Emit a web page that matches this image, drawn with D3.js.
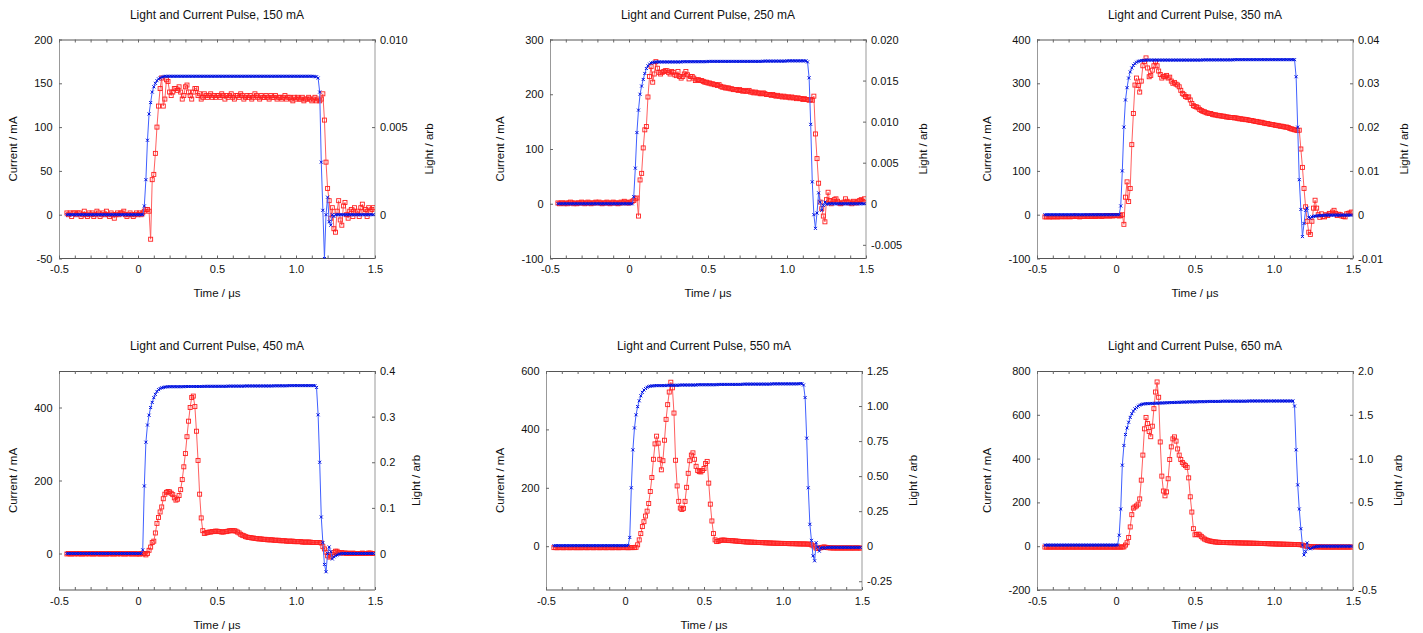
<!DOCTYPE html>
<html>
<head>
<meta charset="utf-8">
<script src="https://cdn.jsdelivr.net/npm/d3@7"></script>
<style>
  body { margin: 0; background: #fff; }
  svg { display: block; font-family: "Liberation Sans", Arial, sans-serif; }
  .tick text { font-size: 11px; fill: #111; }
  .title { font-size: 12px; fill: #111; }
  .axlabel { font-size: 11.5px; fill: #111; }
</style>
</head>
<body>
<div id="chart"></div>
<script>
// sample times, microseconds (scope record, 10 ns per sample)
const timeUs = [
  -0.45,-0.44,-0.43,-0.42,-0.41,
  -0.40,-0.39,-0.38,-0.37,-0.36,-0.35,-0.34,-0.33,-0.32,-0.31,
  -0.30,-0.29,-0.28,-0.27,-0.26,-0.25,-0.24,-0.23,-0.22,-0.21,
  -0.20,-0.19,-0.18,-0.17,-0.16,-0.15,-0.14,-0.13,-0.12,-0.11,
  -0.10,-0.09,-0.08,-0.07,-0.06,-0.05,-0.04,-0.03,-0.02,-0.01,
  0.00,0.01,0.02,0.03,0.04,0.05,0.06,0.07,0.08,0.09,
  0.10,0.11,0.12,0.13,0.14,0.15,0.16,0.17,0.18,0.19,
  0.20,0.21,0.22,0.23,0.24,0.25,0.26,0.27,0.28,0.29,
  0.30,0.31,0.32,0.33,0.34,0.35,0.36,0.37,0.38,0.39,
  0.40,0.41,0.42,0.43,0.44,0.45,0.46,0.47,0.48,0.49,
  0.50,0.51,0.52,0.53,0.54,0.55,0.56,0.57,0.58,0.59,
  0.60,0.61,0.62,0.63,0.64,0.65,0.66,0.67,0.68,0.69,
  0.70,0.71,0.72,0.73,0.74,0.75,0.76,0.77,0.78,0.79,
  0.80,0.81,0.82,0.83,0.84,0.85,0.86,0.87,0.88,0.89,
  0.90,0.91,0.92,0.93,0.94,0.95,0.96,0.97,0.98,0.99,
  1.00,1.01,1.02,1.03,1.04,1.05,1.06,1.07,1.08,1.09,
  1.10,1.11,1.12,1.13,1.14,1.15,1.16,1.17,1.18,1.19,
  1.20,1.21,1.22,1.23,1.24,1.25,1.26,1.27,1.28,1.29,
  1.30,1.31,1.32,1.33,1.34,1.35,1.36,1.37,1.38,1.39,
  1.40,1.41,1.42,1.43,1.44,1.45,1.46,1.47,1.48,1.49
];

const pulseCurrents = [150, 250, 350, 450, 550, 650];

// current in mA
const current150 = [
  0,0,0,0,0,
  0,0,0,0,0,0,0,0,0,0,
  0,0,0,0,0,0,0,0,0,0,
  0,0,0,0,0,0,0,0,0,0,
  0,0,0,0,0,0,0,0,0,0,
  0,0,0,0,10,40,85,115,128,140,
  146,150,153,155,156,157,157.5,158,158,158,
  158,158,158,158,158,158,158,158,158,158,
  158,158,158,158,158,158,158,158,158,158,
  158,158,158,158,158,158,158,158,158,158,
  158,158,158,158,158,158,158,158,158,158,
  158,158,158,158,158,158,158,158,158,158,
  158,158,158,158,158,158,158,158,158,158,
  158,158,158,158,158,158,158,158,158,158,
  158,158,158,158,158,158,158,158,158,158,
  158,158,158,158,158,158,158,158,158,158,
  158,158,157.5,157.5,156,140,60,5,-50,0,
  20,-8,-12,0,-2,0,0,0,0,0,
  0,0,0,0,0,0,0,0,0,0,
  0,0,0,0,0,0,0,0,0,0
];
const current250 = [
  0,0,0,0,0,
  0,0,0,0,0,0,0,0,0,0,
  0,0,0,0,0,0,0,0,0,0,
  0,0,0,0,0,0,0,0,0,0,
  0,0,0,0,0,0,0,0,0,0,
  0,0,0,13,65,130,171,200,215,227,
  238,247,252,255,257,258,258.5,259,259,259,
  259,259,259,259,259,259,259,259,259,259,
  259,259,259,259,259.5,259.5,259.5,259.5,259.5,259.5,
  259.5,259.5,259.5,259.5,259.5,259.5,259.5,259.5,259.5,259.5,
  260,260,260,260,260,260,260,260,260,260,
  260,260,260,260,260,260,260,260,260,260,
  260,260,260,260,260,260,260,260,260,260,
  260,260,260,260,260,260.5,260.5,260.5,260.5,260.5,
  260.5,260.5,260.5,260.5,260.5,260.5,260.5,260.5,260.5,260.5,
  261,261,261,261,261,261,261,261,261,261,
  261,261,261,259,230,145,40,-20,-45,-17,
  20,3,-12,-3,3,-1,0,0,0,0,
  0,0,0,0,0,0,0,0,0,0,
  0,0,0,0,0,0,0,0,0,0
];
const current350 = [
  0,0,0,0,0,
  0,0,0,0,0,0,0,0,0,0,
  0,0,0,0,0,0,0,0,0,0,
  0,0,0,0,0,0,0,0,0,0,
  0,0,0,0,0,0,0,0,0,0,
  0,0,0,20,100,200,262,290,312,326,
  335,341,345,348,350,351,352,352,352.5,353,
  353,353,353,353,353,353,353,353,353,353,
  353,353,353,353,353,353,353,353,353,353,
  353,353,353,353,353,353,353,353,353,353,
  353,353,353,353,353,353.5,353.5,353.5,353.5,353.5,
  353.5,353.5,353.5,353.5,353.5,353.5,353.5,353.5,353.5,353.5,
  353.5,353.5,353.5,353.5,353.5,354,354,354,354,354,
  354,354,354,354,354,354,354,354,354,354,
  354,354,354,354,354,354,354,354,354,354,
  354,354,354,354,354,354,354,354,354,354,
  354,354,354,354,315,200,80,12,-50,-20,
  10,15,-6,-8,-5,-4,-3,-3,-2,-2,
  -2,-2,-1,-1,-1,-1,-1,-1,-1,-1,
  -1,-1,-1,-1,-1,-1,-1,-1,-1,-1
];
const current450 = [
  0,0,0,0,0,
  0,0,0,0,0,0,0,0,0,0,
  0,0,0,0,0,0,0,0,0,0,
  0,0,0,0,0,0,0,0,0,0,
  0,0,0,0,0,0,0,0,0,0,
  0,0,0,10,185,305,352,379,400,414,
  427,436,444,449,452,454,455,456,456.5,457,
  457,457,457,457,457,457,457,457,457,457,
  457.5,457.5,457.5,457.5,457.5,457.5,457.5,457.5,457.5,457.5,
  457.5,457.5,458,458,458,458,458,458,458,458,
  458,458,458,458,458,458,458,458.5,458.5,458.5,
  458.5,458.5,458.5,458.5,458.5,458.5,458.5,458.5,459,459,
  459,459,459,459,459,459,459,459,459,459,
  459,459,459,459,459,459,459.5,459.5,459.5,459.5,
  459.5,459.5,459.5,459.5,459.5,460,460,460,460,460,
  460,460,460,460,460,460,460,460,460,460,
  460,460,460,455,380,250,100,30,-30,-50,
  0,18,5,-15,-9,-6,-4,-2,-1,0,
  0,0,0,0,0,0,0,0,0,0,
  0,0,0,0,0,0,0,0,0,0
];
const current550 = [
  2,2,2,2,2,
  2,2,2,2,2,2,2,2,2,2,
  2,2,2,2,2,2,2,2,2,2,
  2,2,2,2,2,2,2,2,2,2,
  2,2,2,2,2,2,2,2,2,2,
  2,2,3,30,200,330,405,450,478,498,
  515,527,535,540,544,547,548,549,549,550,
  550,550,550,550,550,550,550,551,551,551,
  551,551,551,551,551,552,552,552,552,552,
  552,552,552,552,552,552,553,553,553,553,
  553,553,553,553,553,553,553,553,553,554,
  554,554,554,554,554,554,554,554,554,554,
  554,554,554,554,554,555,555,555,555,555,
  555,555,555,555,555,555,555,555,555,555,
  555,555,555,556,556,556,556,556,556,556,
  556,556,556,556,556,556,556,556,556,556,
  556,557,557,552,509,370,200,75,20,-33,
  -50,12,-3,-17,-6,-5,-7,-5,-4,-4,
  -4,-4,-4,-4,-4,-4,-4,-4,-4,-4,
  -4,-4,-4,-4,-4,-4,-4,-4,-4,-4
];
const current650 = [
  5,5,5,5,5,
  5,5,5,5,5,5,5,5,5,5,
  5,5,5,5,5,5,5,5,5,5,
  5,5,5,5,5,5,5,5,5,5,
  5,5,5,5,5,5,5,5,5,5,
  5,6,50,170,370,460,510,540,566,588,
  605,617,627,633,639,644,647,649,650,651,
  651,651,652,652,652,653,653,653,654,654,
  654,655,655,655,656,656,656,656,657,657,
  657,657,658,658,658,658,659,659,659,659,
  659,659,660,660,660,660,660,660,661,661,
  661,661,661,661,661,661,661,662,662,662,
  662,662,662,662,662,662,662,662,662,662,
  662,662,662,662,663,663,663,663,663,663,
  663,663,663,663,663,663,663,663,663,663,
  663,663,663,663,663,663,663,663,663,663,
  663,663,663,640,440,280,170,80,5,-40,
  -25,15,-10,-12,-8,-5,-3,-2,0,0,
  0,0,0,0,0,0,0,0,0,0,
  0,0,0,0,0,0,0,0,0,0
];

// light output, arbitrary units
const light150 = [
  0.0001,0.0000,0.0001,-0.0001,0.0001,
  0.0001,0.0000,0.0001,0.0001,-0.0001,0.0000,0.0002,0.0000,-0.0001,0.0001,
  0.0000,0.0001,-0.0001,0.0000,0.0002,0.0001,-0.0001,0.0000,0.0001,0.0000,
  0.0002,0.0000,-0.0001,0.0001,0.0000,-0.0002,0.0000,0.0001,0.0000,0.0001,
  0.0001,0.0002,0.0000,-0.0001,0.0000,0.0001,0.0000,-0.0001,0.0000,0.0001,
  0.0000,0.0001,0.0000,0.0001,0.0002,0.0003,0.0003,0.0002,-0.0014,0.0020,
  0.0023,0.0035,0.0050,0.0062,0.0072,0.0078,0.0062,0.0066,0.0077,0.0076,
  0.0070,0.0068,0.0070,0.0072,0.0072,0.0071,0.0073,0.0070,0.0066,0.0068,
  0.0073,0.0074,0.0070,0.0068,0.0066,0.0070,0.0072,0.0072,0.0068,0.0069,
  0.0066,0.0067,0.0069,0.0068,0.0067,0.0068,0.0069,0.0067,0.0068,0.0067,
  0.0068,0.0068,0.0067,0.0069,0.0068,0.0066,0.0068,0.0067,0.0068,0.0069,
  0.0067,0.0066,0.0068,0.0068,0.0067,0.0069,0.0068,0.0066,0.0067,0.0068,
  0.0067,0.0068,0.0066,0.0067,0.0069,0.0068,0.0067,0.0066,0.0068,0.0067,
  0.0067,0.0068,0.0067,0.0066,0.0068,0.0067,0.0067,0.0068,0.0066,0.0067,
  0.0067,0.0066,0.0067,0.0068,0.0066,0.0067,0.0067,0.0066,0.0065,0.0067,
  0.0066,0.0067,0.0066,0.0066,0.0067,0.0065,0.0066,0.0066,0.0067,0.0066,
  0.0065,0.0066,0.0067,0.0065,0.0066,0.0065,0.0066,0.0069,0.0054,0.0030,
  0.0015,0.0008,-0.0002,0.0004,-0.0008,-0.0010,0.0002,0.0008,-0.0003,-0.0006,
  0.0005,0.0007,0.0000,-0.0002,0.0002,0.0003,-0.0001,0.0004,0.0001,0.0002,
  -0.0001,0.0004,0.0006,0.0002,0.0003,-0.0001,0.0004,0.0002,0.0003,0.0004
];
const light250 = [
  0.0001,0.0000,0.0001,0.0001,0.0000,
  0.0001,0.0000,0.0001,0.0002,0.0001,0.0000,0.0001,0.0000,0.0001,0.0001,
  0.0002,0.0001,0.0000,0.0001,0.0002,0.0001,0.0000,0.0001,0.0001,0.0002,
  0.0001,0.0002,0.0001,0.0000,0.0001,0.0001,0.0002,0.0001,0.0000,0.0001,
  0.0002,0.0001,0.0001,0.0000,0.0001,0.0002,0.0001,0.0003,0.0002,0.0001,
  0.0001,0.0002,0.0003,0.0004,0.0006,0.0007,-0.0015,0.0029,0.0037,0.0068,
  0.0090,0.0094,0.0130,0.0155,0.0167,0.0148,0.0158,0.0173,0.0165,0.0160,
  0.0158,0.0160,0.0161,0.0162,0.0162,0.0160,0.0158,0.0161,0.0160,0.0157,
  0.0156,0.0161,0.0155,0.0153,0.0155,0.0158,0.0161,0.0157,0.0152,0.0155,
  0.0155,0.0153,0.0150,0.0151,0.0151,0.0150,0.0150,0.0149,0.0148,0.0148,
  0.0147,0.0147,0.0146,0.0146,0.0145,0.0145,0.0144,0.0145,0.0143,0.0142,
  0.0142,0.0141,0.0141,0.0141,0.0140,0.0140,0.0139,0.0139,0.0139,0.0138,
  0.0139,0.0138,0.0137,0.0138,0.0137,0.0137,0.0138,0.0136,0.0136,0.0135,
  0.0136,0.0135,0.0135,0.0134,0.0134,0.0135,0.0134,0.0133,0.0133,0.0133,
  0.0132,0.0133,0.0132,0.0131,0.0132,0.0131,0.0131,0.0130,0.0131,0.0130,
  0.0130,0.0130,0.0129,0.0130,0.0129,0.0129,0.0128,0.0129,0.0128,0.0128,
  0.0127,0.0128,0.0127,0.0127,0.0126,0.0127,0.0126,0.0131,0.0085,0.0055,
  0.0025,0.0002,-0.0006,-0.0015,-0.0022,0.0005,0.0014,0.0004,0.0000,0.0003,
  0.0005,0.0006,0.0003,0.0001,0.0000,0.0001,0.0002,0.0006,0.0003,0.0001,
  0.0002,0.0000,0.0003,0.0002,0.0001,0.0003,0.0004,0.0005,0.0003,0.0006
];
const light350 = [
  -0.0005,-0.0005,-0.0004,-0.0005,-0.0005,
  -0.0005,-0.0004,-0.0005,-0.0005,-0.0004,-0.0005,-0.0004,-0.0004,-0.0005,-0.0004,
  -0.0004,-0.0005,-0.0004,-0.0004,-0.0003,-0.0004,-0.0004,-0.0005,-0.0004,-0.0004,
  -0.0004,-0.0003,-0.0004,-0.0004,-0.0003,-0.0004,-0.0003,-0.0004,-0.0003,-0.0003,
  -0.0003,-0.0004,-0.0003,-0.0003,-0.0002,-0.0003,-0.0003,-0.0002,-0.0003,-0.0002,
  -0.0002,-0.0002,-0.0003,-0.0002,0.0000,-0.0022,0.0040,0.0075,0.0030,0.0060,
  0.0160,0.0231,0.0296,0.0312,0.0295,0.0280,0.0305,0.0340,0.0350,0.0358,
  0.0335,0.0315,0.0318,0.0330,0.0340,0.0349,0.0340,0.0328,0.0320,0.0312,
  0.0316,0.0315,0.0318,0.0312,0.0314,0.0305,0.0300,0.0302,0.0298,0.0296,
  0.0292,0.0284,0.0277,0.0274,0.0270,0.0268,0.0269,0.0262,0.0254,0.0249,
  0.0247,0.0246,0.0244,0.0240,0.0238,0.0236,0.0235,0.0233,0.0232,0.0231,
  0.0231,0.0229,0.0228,0.0228,0.0227,0.0226,0.0226,0.0225,0.0225,0.0224,
  0.0223,0.0223,0.0222,0.0222,0.0222,0.0221,0.0221,0.0220,0.0219,0.0219,
  0.0218,0.0218,0.0217,0.0217,0.0216,0.0215,0.0215,0.0214,0.0213,0.0213,
  0.0212,0.0211,0.0211,0.0210,0.0209,0.0208,0.0208,0.0207,0.0206,0.0206,
  0.0205,0.0204,0.0204,0.0203,0.0202,0.0202,0.0201,0.0200,0.0200,0.0199,
  0.0197,0.0196,0.0195,0.0194,0.0193,0.0192,0.0193,0.0150,0.0108,0.0060,
  0.0018,-0.0015,-0.0040,-0.0045,-0.0015,0.0015,0.0033,0.0015,0.0000,-0.0006,
  0.0002,-0.0004,-0.0005,0.0000,-0.0002,0.0003,0.0002,0.0006,0.0010,0.0003,
  -0.0002,0.0001,0.0000,-0.0003,-0.0004,-0.0005,0.0002,0.0003,0.0004,0.0006
];
const light450 = [
  -0.001,0.000,-0.001,-0.001,0.000,
  -0.001,0.000,-0.001,0.000,-0.001,-0.001,0.000,-0.001,0.000,-0.001,
  0.000,-0.001,-0.001,0.000,-0.001,0.000,-0.001,-0.001,0.000,-0.001,
  -0.001,0.000,-0.001,0.000,-0.001,-0.001,0.000,-0.001,0.000,-0.001,
  0.000,-0.001,-0.001,0.000,-0.001,0.000,-0.001,-0.001,0.000,-0.001,
  -0.001,-0.001,0.000,-0.001,0.000,-0.003,0.000,0.007,0.014,0.024,
  0.027,0.045,0.066,0.079,0.091,0.102,0.120,0.130,0.134,0.136,
  0.135,0.132,0.129,0.122,0.117,0.119,0.127,0.140,0.162,0.190,
  0.219,0.256,0.290,0.320,0.342,0.345,0.322,0.268,0.204,0.130,
  0.078,0.050,0.044,0.045,0.046,0.047,0.047,0.048,0.048,0.049,
  0.049,0.048,0.048,0.047,0.047,0.048,0.048,0.049,0.050,0.050,
  0.050,0.050,0.049,0.047,0.045,0.042,0.040,0.039,0.037,0.036,
  0.035,0.035,0.034,0.034,0.033,0.033,0.032,0.032,0.032,0.031,
  0.031,0.031,0.030,0.030,0.030,0.030,0.029,0.029,0.029,0.029,
  0.028,0.028,0.028,0.028,0.027,0.027,0.027,0.027,0.027,0.026,
  0.026,0.026,0.026,0.026,0.025,0.025,0.025,0.025,0.025,0.025,
  0.024,0.024,0.024,0.024,0.024,0.024,0.023,0.015,0.010,0.003,
  -0.005,-0.008,-0.006,-0.002,0.002,0.005,0.005,0.002,0.001,0.002,
  0.001,0.001,0.000,0.001,0.000,0.000,0.001,0.000,0.000,0.000,
  0.000,0.000,0.001,0.000,0.000,0.000,0.001,0.001,0.000,0.000
];
const light550 = [
  -0.010,-0.010,-0.011,-0.010,-0.010,
  -0.010,-0.011,-0.010,-0.010,-0.010,-0.011,-0.010,-0.010,-0.010,-0.011,
  -0.010,-0.010,-0.011,-0.010,-0.010,-0.010,-0.011,-0.010,-0.010,-0.010,
  -0.011,-0.010,-0.010,-0.010,-0.011,-0.010,-0.010,-0.010,-0.011,-0.010,
  -0.010,-0.010,-0.011,-0.010,-0.010,-0.010,-0.011,-0.010,-0.010,-0.010,
  -0.010,-0.010,-0.011,-0.010,-0.010,-0.010,-0.010,-0.008,0.010,0.045,
  0.090,0.140,0.175,0.215,0.250,0.305,0.390,0.490,0.620,0.730,
  0.785,0.735,0.620,0.545,0.610,0.756,0.905,1.010,1.100,1.170,
  1.130,0.950,0.613,0.430,0.320,0.272,0.262,0.270,0.320,0.420,
  0.520,0.610,0.650,0.666,0.620,0.570,0.540,0.532,0.530,0.540,
  0.554,0.590,0.605,0.450,0.300,0.180,0.090,0.045,0.033,0.035,
  0.040,0.043,0.044,0.043,0.042,0.041,0.040,0.040,0.039,0.038,
  0.037,0.036,0.035,0.034,0.033,0.032,0.031,0.030,0.030,0.029,
  0.029,0.028,0.028,0.027,0.027,0.026,0.026,0.025,0.025,0.024,
  0.024,0.023,0.023,0.022,0.022,0.021,0.021,0.021,0.020,0.020,
  0.020,0.019,0.019,0.019,0.018,0.018,0.018,0.018,0.017,0.017,
  0.017,0.016,0.016,0.016,0.016,0.015,0.015,0.014,0.010,0.003,
  -0.005,-0.014,-0.016,-0.012,-0.011,-0.008,-0.005,-0.008,-0.010,-0.011,
  -0.012,-0.012,-0.013,-0.012,-0.013,-0.013,-0.012,-0.013,-0.013,-0.012,
  -0.013,-0.013,-0.012,-0.013,-0.013,-0.013,-0.012,-0.013,-0.013,-0.013
];
const light650 = [
  -0.010,-0.010,-0.009,-0.010,-0.010,
  -0.010,-0.009,-0.010,-0.010,-0.010,-0.009,-0.010,-0.010,-0.010,-0.009,
  -0.010,-0.010,-0.009,-0.010,-0.010,-0.010,-0.009,-0.010,-0.010,-0.010,
  -0.009,-0.010,-0.010,-0.010,-0.009,-0.010,-0.010,-0.010,-0.009,-0.010,
  -0.010,-0.010,-0.009,-0.010,-0.010,-0.010,-0.009,-0.010,-0.010,-0.010,
  -0.010,-0.010,-0.009,-0.010,-0.009,-0.008,0.013,0.040,0.100,0.220,
  0.360,0.435,0.448,0.460,0.480,0.540,0.754,1.040,1.340,1.470,
  1.400,1.310,1.250,1.370,1.570,1.760,1.875,1.700,1.190,0.800,
  0.630,0.575,0.620,0.770,0.990,1.134,1.225,1.248,1.200,1.110,
  1.040,0.990,0.955,0.935,0.920,0.900,0.780,0.564,0.390,0.200,
  0.130,0.133,0.138,0.128,0.112,0.095,0.082,0.073,0.066,0.061,
  0.057,0.053,0.050,0.048,0.046,0.045,0.043,0.043,0.042,0.042,
  0.041,0.041,0.040,0.040,0.040,0.039,0.039,0.038,0.038,0.037,
  0.037,0.036,0.036,0.036,0.035,0.035,0.034,0.034,0.033,0.033,
  0.032,0.032,0.031,0.031,0.030,0.029,0.029,0.028,0.027,0.027,
  0.026,0.025,0.025,0.024,0.024,0.023,0.023,0.022,0.022,0.021,
  0.021,0.021,0.020,0.020,0.019,0.019,0.018,0.017,0.012,0.006,
  0.002,-0.001,-0.003,-0.005,-0.006,-0.006,-0.007,-0.008,-0.008,-0.009,
  -0.009,-0.010,-0.009,-0.010,-0.010,-0.009,-0.010,-0.010,-0.010,-0.009,
  -0.010,-0.010,-0.010,-0.009,-0.010,-0.010,-0.010,-0.010,-0.009,-0.010
];

const currentSeries = [current150, current250, current350, current450, current550, current650];
const lightSeries = [light150, light250, light350, light450, light550, light650];

// axes
const timeDomain = [-0.5, 1.5];
const timeTicks = [-0.5, 0, 0.5, 1.0, 1.5];
const currentDomains = [[-50, 200], [-100, 300], [-100, 400], [-100, 500], [-150, 600], [-200, 800]];
const currentTicks = [
  [-50, 0, 50, 100, 150, 200],
  [-100, 0, 100, 200, 300],
  [-100, 0, 100, 200, 300, 400],
  [0, 200, 400],
  [0, 200, 400, 600],
  [-200, 0, 200, 400, 600, 800]
];
const lightMax = [0.010, 0.020, 0.04, 0.4, 1.25, 2.0];
const lightTicks = [
  [0, 0.005, 0.010],
  [-0.005, 0, 0.005, 0.010, 0.015, 0.020],
  [-0.01, 0, 0.01, 0.02, 0.03, 0.04],
  [0, 0.1, 0.2, 0.3, 0.4],
  [-0.25, 0, 0.25, 0.5, 0.75, 1.0, 1.25],
  [-0.5, 0, 0.5, 1.0, 1.5, 2.0]
];
const lightDecimals = [3, 3, 2, 1, 2, 1];

// layout
const W = 1423, H = 633;
const frameW = 316, frameH = 219;
const frames = [
  {x: 59, y: 39.5}, {x: 550, y: 39.5}, {x: 1037, y: 39.5},
  {x: 59, y: 371}, {x: 546, y: 371}, {x: 1037, y: 371}
];

const svg = d3.select("#chart").append("svg")
  .attr("width", W)
  .attr("height", H);

const fmt = (d, n) => d === 0 ? "0" : d.toFixed(n);

pulseCurrents.forEach((mA, i) => {
  const f = frames[i];
  const g = svg.append("g").attr("transform", `translate(${f.x},${f.y})`);

  const x = d3.scaleLinear().domain(timeDomain).range([0, frameW]);
  const yCur = d3.scaleLinear().domain(currentDomains[i]).range([frameH, 0]);
  // light axis shares its zero with the current axis
  const lo = lightMax[i] * currentDomains[i][0] / currentDomains[i][1];
  const yLight = d3.scaleLinear().domain([lo, lightMax[i]]).range([frameH, 0]);

  g.append("text")
    .attr("class", "title")
    .attr("x", frameW / 2)
    .attr("y", -21)
    .attr("text-anchor", "middle")
    .text(`Light and Current Pulse, ${mA} mA`);

  // frame
  const frame = g.append("g");
  frame.append("line").attr("x1", 0).attr("x2", frameW).attr("y1", 0.5).attr("y2", 0.5).attr("stroke", "#555");
  frame.append("line").attr("x1", 0).attr("x2", frameW).attr("y1", frameH).attr("y2", frameH).attr("stroke", "#555");
  frame.append("line").attr("x1", 0.5).attr("x2", 0.5).attr("y1", 0).attr("y2", frameH).attr("stroke", "#999");
  frame.append("line").attr("x1", frameW).attr("x2", frameW).attr("y1", 0).attr("y2", frameH).attr("stroke", "#999");

  // axes
  const xAxis = g.append("g")
    .attr("transform", `translate(0,${frameH})`)
    .call(d3.axisBottom(x).tickValues(timeTicks).tickSize(0).tickPadding(7).tickFormat(d => fmt(d, 1)));
  g.append("g")
    .attr("transform", `translate(0,${frameH})`)
    .call(d3.axisBottom(x).ticks(20).tickSize(-3).tickFormat(""));
  g.append("g")
    .call(d3.axisTop(x).ticks(20).tickSize(-3).tickFormat(""));

  const leftAxis = g.append("g")
    .call(d3.axisLeft(yCur).tickValues(currentTicks[i]).tickSize(-3).tickPadding(6.5).tickFormat(d => fmt(d, 0)));
  const rightAxis = g.append("g")
    .attr("transform", `translate(${frameW},0)`)
    .call(d3.axisRight(yLight).tickValues(lightTicks[i]).tickSize(-3).tickPadding(5)
      .tickFormat(d => fmt(d, lightDecimals[i])));

  [xAxis, leftAxis, rightAxis].forEach(a => a.select(".domain").remove());
  g.selectAll(".tick line").attr("stroke", "#666");
  g.selectAll(".domain").remove();

  // axis titles
  const lb = leftAxis.node().getBBox();
  const rb = rightAxis.node().getBBox();
  g.append("text")
    .attr("class", "axlabel")
    .attr("transform", `translate(${lb.x - 21},${frameH / 2}) rotate(-90)`)
    .attr("text-anchor", "middle")
    .attr("dominant-baseline", "central")
    .text("Current / mA");
  g.append("text")
    .attr("class", "axlabel")
    .attr("transform", `translate(${frameW + rb.x + rb.width + 21},${frameH / 2}) rotate(-90)`)
    .attr("text-anchor", "middle")
    .attr("dominant-baseline", "central")
    .text("Light / arb");
  g.append("text")
    .attr("class", "axlabel")
    .attr("x", frameW / 2)
    .attr("y", frameH + 38.5)
    .attr("text-anchor", "middle")
    .text("Time / \u03bcs");

  // data
  const clipId = "clip" + i;
  g.append("clipPath").attr("id", clipId)
    .append("rect").attr("width", frameW).attr("height", frameH);
  const plot = g.append("g").attr("clip-path", `url(#${clipId})`);

  const cur = currentSeries[i], lig = lightSeries[i];
  if (cur.length !== timeUs.length || lig.length !== timeUs.length)
    console.error("length mismatch", mA, cur.length, lig.length);

  const lightPts = timeUs.map((t, k) => [x(t), yLight(lig[k])]);
  const curPts = timeUs.map((t, k) => [x(t), yCur(cur[k])]);

  plot.append("path")
    .attr("d", d3.line()(lightPts))
    .attr("fill", "none")
    .attr("stroke", "#ff6060")
    .attr("stroke-width", 1);
  plot.selectAll("rect.lm")
    .data(lightPts)
    .enter()
    .append("rect")
    .attr("class", "lm")
    .attr("x", d => d[0] - 2)
    .attr("y", d => d[1] - 2)
    .attr("width", 4)
    .attr("height", 4)
    .attr("fill", "none")
    .attr("stroke", "#ff2020")
    .attr("stroke-width", 0.9);

  plot.append("path")
    .attr("d", d3.line()(curPts))
    .attr("fill", "none")
    .attr("stroke", "#4060ff")
    .attr("stroke-width", 1);
  plot.selectAll("path.cm")
    .data(curPts)
    .enter()
    .append("path")
    .attr("class", "cm")
    .attr("d", d => `M${d[0] - 1.5},${d[1] - 1.5}L${d[0] + 1.5},${d[1] + 1.5}M${d[0] - 1.5},${d[1] + 1.5}L${d[0] + 1.5},${d[1] - 1.5}`)
    .attr("stroke", "#0010e0")
    .attr("stroke-width", 1);
});
</script>
</body>
</html>
